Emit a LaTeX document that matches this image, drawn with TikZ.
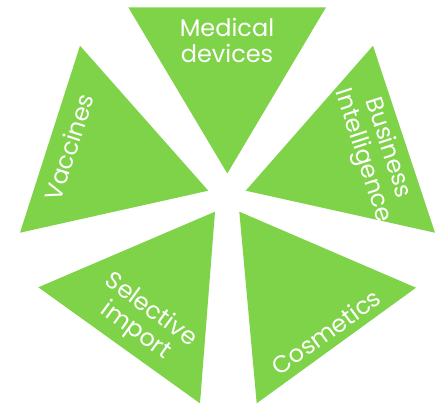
\documentclass[tikz,border=0pt]{standalone}
\usepackage{fontspec}
\setmainfont{Poppins}
\definecolor{leaf}{HTML}{7ED348}
\begin{document}
\begin{tikzpicture}[x=1pt,y=-1pt,
  wedge/.style={fill=leaf,draw=none},
  lbl/.style={text=white,align=center,font=\fontsize{24}{26}\selectfont,inner sep=0pt}]
\useasboundingbox (0,0) rectangle (439,404);
% top
\coordinate (t1) at (128.3,7.3);
\coordinate (t2) at (326,7.3);
\coordinate (t3) at (227.3,173.5);
\fill[wedge] (t1) -- (t2) -- (t3) -- cycle;
% right
\coordinate (r1) at (373,45.7);
\coordinate (r2) at (245.7,190.7);
\coordinate (r3) at (435,232.7);
\fill[wedge] (r1) -- (r2) -- (r3) -- cycle;
% left
\coordinate (l1) at (80,45.7);
\coordinate (l2) at (208.3,190.7);
\coordinate (l3) at (20,232.7);
\fill[wedge] (l1) -- (l2) -- (l3) -- cycle;
% bottom right
\coordinate (c1) at (239.3,211.7);
\coordinate (c2) at (416,287.7);
\coordinate (c3) at (256.7,403.3);
\fill[wedge] (c1) -- (c2) -- (c3) -- cycle;
% bottom left
\coordinate (s1) at (215,211.7);
\coordinate (s2) at (38.3,287.3);
\coordinate (s3) at (200,403.3);
\fill[wedge] (s1) -- (s2) -- (s3) -- cycle;
% labels
\node[lbl] (med) at (227,40) {Medical\\devices};
\node[lbl,rotate=72] (vac) at (69,147) {Vaccines};
\node[lbl,rotate=-72] (bi) at (375,152) {Business\\Intelligence};
\node[lbl,rotate=-36] (sel) at (143,321) {Selective\\import};
\node[lbl,rotate=36] (cos) at (326,332) {Cosmetics};
\end{tikzpicture}
\end{document}
